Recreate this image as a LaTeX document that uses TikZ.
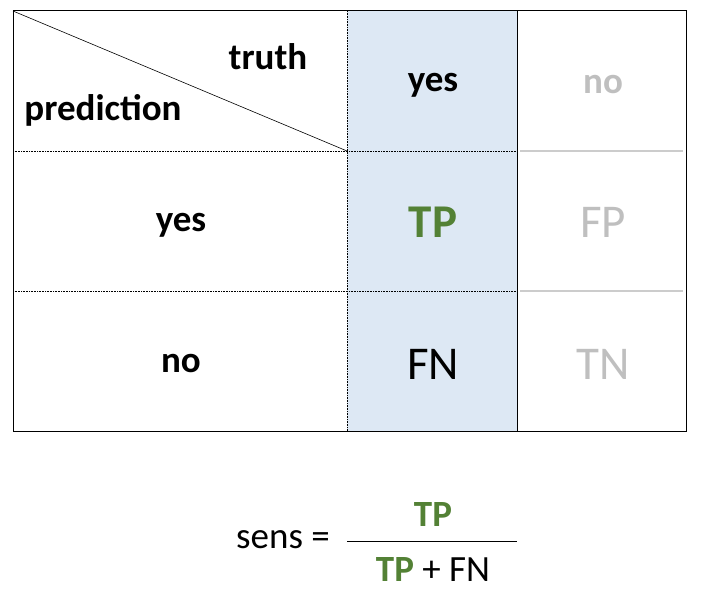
\documentclass[tikz,border=0pt]{standalone}
\usepackage{fontspec}
\setmainfont{Carlito}
\definecolor{cellblue}{HTML}{DDE8F4}
\definecolor{tpgreen}{HTML}{538135}
\begin{document}
\begin{tikzpicture}[x=1pt,y=-1pt,
  lab/.style={font=\fontsize{37}{40}\selectfont\bfseries},
  big/.style={font=\fontsize{47}{50}\selectfont},
  faded/.style={text=black!25},
  grid/.style={densely dotted, line width=0.6pt}]
	\useasboundingbox (0,0) rectangle (707,596);
	% Cells
	\fill [cellblue] (347,11) rectangle (517,431);
	\draw [grid] (13,151) -- (517,151);
	\draw [grid] (13,291) -- (517,291);
	\draw [grid] (347,11) -- (347,431);
	\draw [black!20, line width=2pt] (520,151) -- (683,151);
	\draw [black!20, line width=2pt] (520,291) -- (683,291);
	\draw [line width=0.8pt] (517,11) -- (517,431);
	\draw [line width=1pt] (13,11) rectangle (686,431);
	\draw [line width=0.6pt] (13,11) -- (347,151);
	% Labels
	\node [lab] (truth) at (268,57) {truth};
	\node [lab] (pred) at (103,110) {prediction};
	\node [lab] (yescol) at (433,85) {yes};
	\node [lab, faded] (nocol) at (603,85) {no};
	\node [lab] (yesrow) at (181,225) {yes};
	\node [lab] (norow) at (181,364) {no};
	\node [big, text=tpgreen, font=\fontsize{47}{50}\selectfont\bfseries] (tp) at (433,222) {TP};
	\node [big, faded] (fp) at (603,222) {FP};
	\node [big] (fn) at (433,364) {FN};
	\node [big, faded] (tn) at (603,364) {TN};
	% Formula
	\node [font=\fontsize{37}{40}\selectfont] (sens) at (283,540) {sens =};
	\draw [line width=1pt] (347,541) -- (517,541);
	\node [lab, text=tpgreen] (num) at (433,515) {TP};
	\node [font=\fontsize{37}{40}\selectfont] (den) at (433,570) {\textcolor{tpgreen}{\bfseries TP} + FN};
\end{tikzpicture}
\end{document}
